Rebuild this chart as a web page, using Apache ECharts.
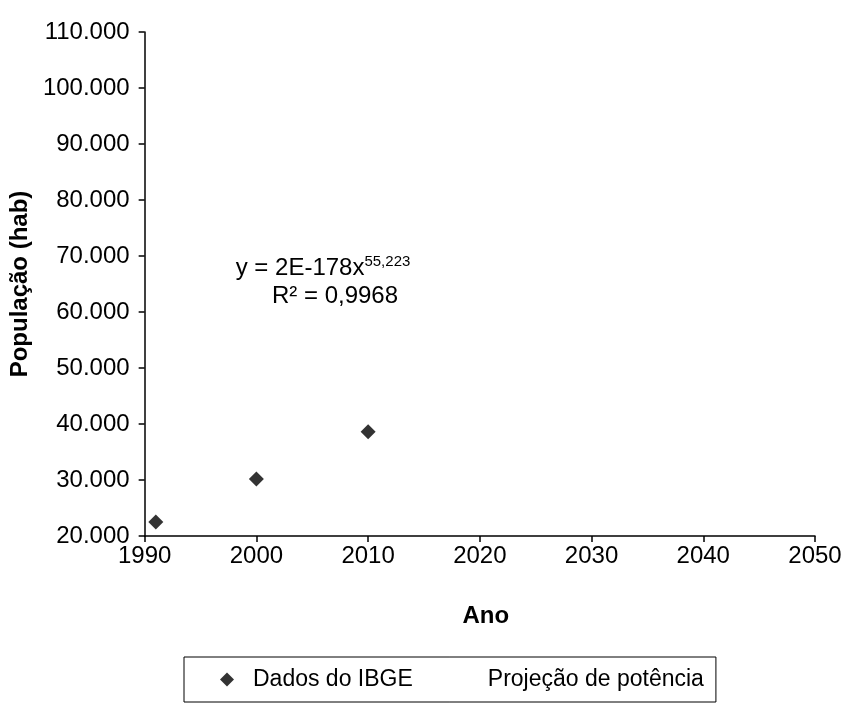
<!DOCTYPE html>
<html>
<head>
<meta charset="utf-8">
<script src="https://cdn.jsdelivr.net/npm/echarts@6/dist/echarts.min.js"></script>
<style>
  html, body { margin: 0; padding: 0; background: #fff; }
  #chart { width: 851px; height: 709px; }
</style>
</head>
<body>
<div id="chart"></div>
<script>
// Census counts (IBGE) by year
const anos = [1991, 2000, 2010];
const populacao = [22500, 30200, 38600];

// Axis ranges and steps
const xMin = 1990, xMax = 2050, xStep = 10;
const yMin = 20000, yMax = 110000, yStep = 10000;

// Power trend fitted to the census counts
const equacao = 'y = 2E-178x';
const expoente = '55,223';
const r2 = 'R² = 0,9968';

const FONT = '"Liberation Sans", Arial, sans-serif';

const pontos = anos.map((a, i) => [a, populacao[i]]);

const chart = echarts.init(document.getElementById('chart'));

function formatMil(v) {
  return String(v).replace(/\B(?=(\d{3})+(?!\d))/g, '.');
}

chart.setOption({
  animation: false,
  backgroundColor: '#ffffff',
  grid: { left: 143, right: 36, top: 32, bottom: 173, containLabel: false },
  xAxis: {
    type: 'value',
    min: xMin, max: xMax, interval: xStep,
    name: 'Ano',
    nameLocation: 'middle',
    nameGap: 68,
    nameTextStyle: { fontFamily: FONT, fontSize: 24, fontWeight: 'bold', color: '#000', padding: [0, 0, 0, 12] },
    axisLine: { show: true, lineStyle: { color: '#000', width: 1.5 } },
    axisTick: { show: true, length: 6, lineStyle: { color: '#000', width: 1.5 } },
    axisLabel: { fontFamily: FONT, fontSize: 24, color: '#000', margin: 8, formatter: v => String(v) },
    splitLine: { show: false }
  },
  yAxis: {
    type: 'value',
    min: yMin, max: yMax, interval: yStep,
    name: 'População (hab)',
    nameLocation: 'middle',
    nameGap: 111,
    nameRotate: 90,
    nameTextStyle: { fontFamily: FONT, fontSize: 24, fontWeight: 'bold', color: '#000' },
    axisLine: { show: true, lineStyle: { color: '#000', width: 1.5 } },
    axisTick: { show: true, length: 6, lineStyle: { color: '#000', width: 1.5 } },
    axisLabel: { fontFamily: FONT, fontSize: 24, color: '#000', margin: 15, formatter: formatMil },
    splitLine: { show: false }
  },
  legend: {
    left: 184, top: 657,
    orient: 'horizontal',
    padding: [11, 12, 11, 36],
    borderColor: '#000', borderWidth: 1,
    itemWidth: 14, itemHeight: 14,
    itemGap: 42,
    textStyle: { fontFamily: FONT, fontSize: 23, color: '#000', padding: [0, 0, 0, 14] },
    data: [
      { name: 'Dados do IBGE', icon: 'diamond' },
      { name: 'Projeção de potência', icon: 'none' }
    ]
  },
  series: [
    {
      name: 'Dados do IBGE',
      type: 'scatter',
      symbol: 'diamond',
      symbolSize: 15,
      itemStyle: { color: '#000' },
      data: pontos
    },
    {
      name: 'Projeção de potência',
      type: 'line',
      showSymbol: false,
      lineStyle: { color: '#000', width: 1 },
      data: []
    }
  ],
  graphic: [
    {
      type: 'text',
      x: 323, y: 268,
      style: {
        text: '{m|' + equacao + '}{s|' + expoente + '}',
        align: 'center', verticalAlign: 'middle',
        rich: {
          m: { fontFamily: FONT, fontSize: 24, fill: '#000' },
          s: { fontFamily: FONT, fontSize: 15, fill: '#000', padding: [0, 0, 12, 0] }
        }
      }
    },
    {
      type: 'text',
      x: 335, y: 296,
      style: { text: r2, fontFamily: FONT, fontSize: 24, fill: '#000', align: 'center', verticalAlign: 'middle' }
    }
  ]
});
</script>
</body>
</html>
